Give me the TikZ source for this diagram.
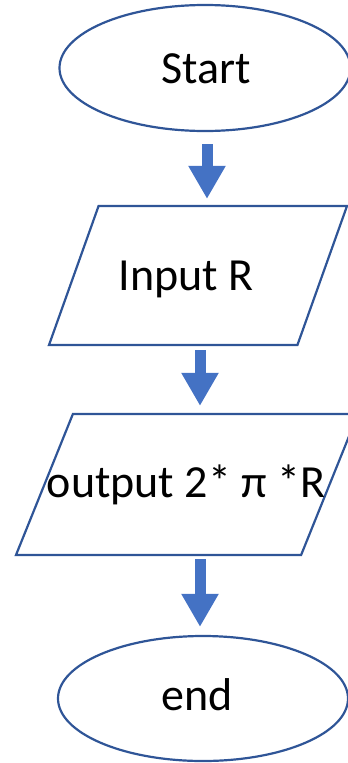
\documentclass[tikz,border=0pt]{standalone}
\usepackage{fontspec}
\setmainfont{Carlito}
\usetikzlibrary{shapes.geometric,arrows.meta}

\definecolor{shapeblue}{HTML}{2F5597}
\definecolor{arrowblue}{HTML}{4472C4}

\tikzset{
  terminal/.style={draw=shapeblue, line width=2.2pt, ellipse, inner sep=0pt},
  io/.style={draw=shapeblue, line width=2.2pt, trapezium, trapezium left angle=76,
    trapezium right angle=104, trapezium stretches=true, inner sep=2pt},
  flowtext/.style={font=\fontsize{46}{50}\selectfont, anchor=base, inner sep=0pt},
  flowarrow/.style={arrowblue, line width=11pt, -{Triangle[width=35pt,length=33pt]}}
}

\begin{document}
\begin{tikzpicture}[x=1pt,y=-1pt]
  \useasboundingbox (0,0) rectangle (348,763);

  % Start and end
  \node[terminal, minimum width=291pt, minimum height=126pt] (start) at (205,68) {};
  \node[terminal, minimum width=290pt, minimum height=125pt] (stop) at (203,698.5) {};

  % Input and output boxes
  \node[io, minimum width=298pt, minimum height=139pt] (inbox) at (198,275.5) {};
  \node[io, minimum width=342pt, minimum height=141pt] (outbox) at (187,484.5) {};

  % Texts
  \node[flowtext] (starttext) at (206.5,83) {Start};
  \node[flowtext] (intext) at (186,290) {Input R};
  \node[flowtext] (outtext) at (186,497) {output 2* π *R};
  \node[flowtext] (stoptext) at (197.5,710) {end};

  % Arrows
  \draw[flowarrow, shorten <=12pt, shorten >=6pt]
    ([xshift=2pt]start.south) -- ([xshift=2pt]start.south |- inbox.north);
  \draw[flowarrow, shorten <=4pt, shorten >=7pt]
    ([xshift=2pt]inbox.south) -- ([xshift=2pt]inbox.south |- outbox.north);
  \draw[flowarrow, shorten <=3pt, shorten >=8pt]
    ([xshift=-3pt]stop.north |- outbox.south) -- ([xshift=-3pt]stop.north);
\end{tikzpicture}
\end{document}
